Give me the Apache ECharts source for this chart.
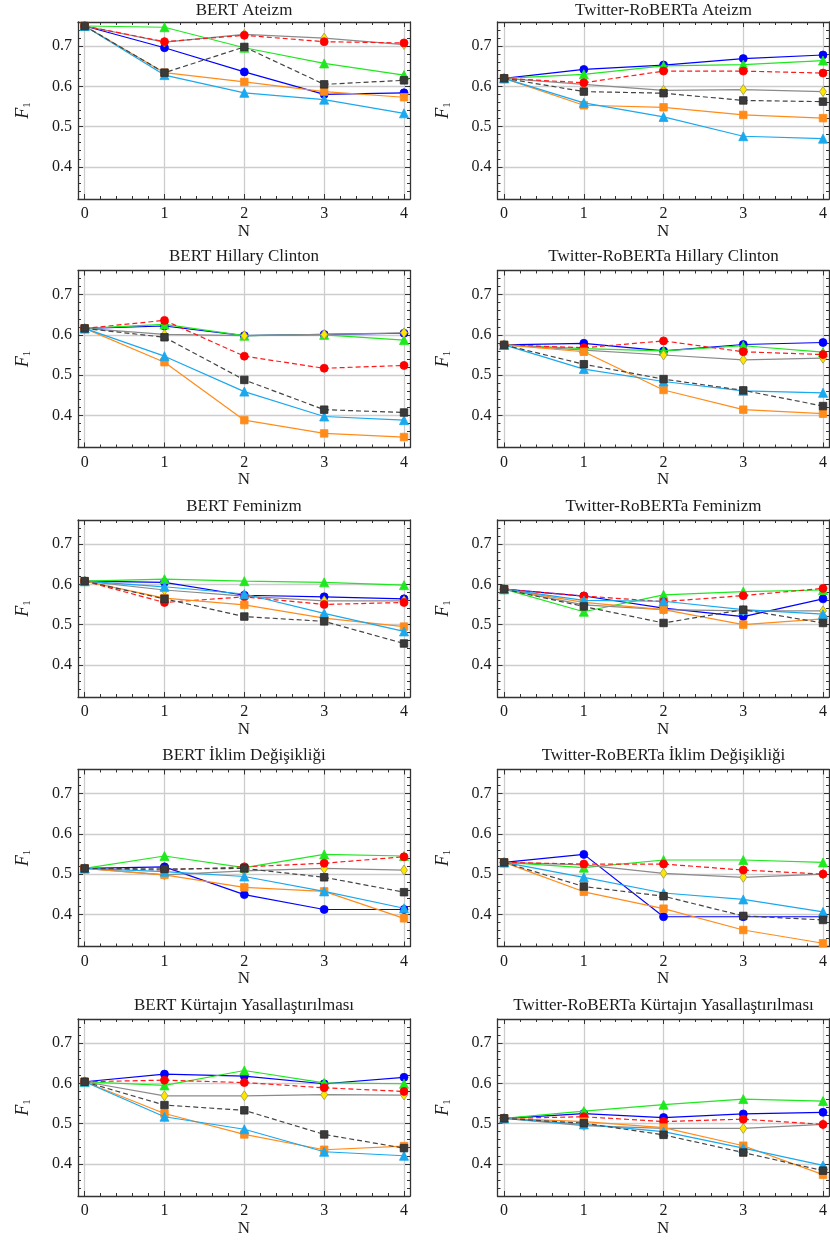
<!DOCTYPE html>
<html><head><meta charset="utf-8">
<script src="https://cdn.jsdelivr.net/npm/echarts@6/dist/echarts.min.js"></script>
<style>html,body{margin:0;padding:0;background:#fff}#c{width:830px;height:1245px}</style>
</head><body><div id="c"></div>
<script>
// ---------- data ----------
const N = [0, 1, 2, 3, 4];
const xTickLabels = ['0', '1', '2', '3', '4'];
const yTickValues = [0.4, 0.5, 0.6, 0.7];
const yTickLabels = ['0.4', '0.5', '0.6', '0.7'];
const titles = [
  'BERT Ateizm', 'Twitter-RoBERTa Ateizm',
  'BERT Hillary Clinton', 'Twitter-RoBERTa Hillary Clinton',
  'BERT Feminizm', 'Twitter-RoBERTa Feminizm',
  'BERT İklim Değişikliği', 'Twitter-RoBERTa İklim Değişikliği',
  'BERT Kürtajın Yasallaştırılması', 'Twitter-RoBERTa Kürtajın Yasallaştırılması'
];
// row order in each panel: blue, green, gray/diamond, red dashed, orange, light blue, black dashed
const bertAteizm = [
  [0.75, 0.696, 0.636, 0.580, 0.584],
  [0.75, 0.747, 0.696, 0.657, 0.628],
  [0.75, 0.710, 0.729, 0.720, 0.704],
  [0.75, 0.711, 0.727, 0.711, 0.708],
  [0.75, 0.634, 0.611, 0.587, 0.573],
  [0.75, 0.628, 0.584, 0.567, 0.533],
  [0.75, 0.634, 0.698, 0.605, 0.615]
];
const robertaAteizm = [
  [0.62, 0.642, 0.653, 0.669, 0.678],
  [0.62, 0.630, 0.651, 0.654, 0.664],
  [0.62, 0.605, 0.590, 0.592, 0.587],
  [0.62, 0.609, 0.638, 0.638, 0.633],
  [0.62, 0.553, 0.548, 0.529, 0.521],
  [0.62, 0.559, 0.524, 0.476, 0.470],
  [0.62, 0.587, 0.583, 0.565, 0.562]
];
const bertHillary = [
  [0.616, 0.622, 0.598, 0.601, 0.604],
  [0.616, 0.626, 0.598, 0.600, 0.587],
  [0.616, 0.601, 0.598, 0.601, 0.605],
  [0.616, 0.636, 0.547, 0.517, 0.524],
  [0.616, 0.532, 0.388, 0.355, 0.346],
  [0.616, 0.547, 0.459, 0.397, 0.388],
  [0.616, 0.594, 0.488, 0.414, 0.407]
];
const robertaHillary = [
  [0.575, 0.579, 0.560, 0.576, 0.581],
  [0.575, 0.566, 0.560, 0.573, 0.557],
  [0.575, 0.562, 0.550, 0.538, 0.542],
  [0.575, 0.568, 0.585, 0.558, 0.551],
  [0.575, 0.558, 0.463, 0.414, 0.404],
  [0.575, 0.515, 0.484, 0.461, 0.456],
  [0.575, 0.527, 0.490, 0.462, 0.423]
];
const bertFeminizm = [
  [0.608, 0.605, 0.573, 0.569, 0.564],
  [0.608, 0.613, 0.608, 0.605, 0.598],
  [0.608, 0.586, 0.571, 0.559, 0.559],
  [0.608, 0.555, 0.569, 0.550, 0.555],
  [0.608, 0.566, 0.549, 0.516, 0.495],
  [0.608, 0.594, 0.576, 0.528, 0.483],
  [0.608, 0.564, 0.520, 0.508, 0.453]
];
const robertaFeminizm = [
  [0.588, 0.571, 0.541, 0.520, 0.564],
  [0.588, 0.532, 0.574, 0.582, 0.586],
  [0.588, 0.549, 0.537, 0.534, 0.534],
  [0.588, 0.571, 0.557, 0.572, 0.590],
  [0.588, 0.555, 0.537, 0.500, 0.514],
  [0.588, 0.560, 0.558, 0.537, 0.526],
  [0.588, 0.545, 0.504, 0.537, 0.504]
];
const bertIklim = [
  [0.514, 0.518, 0.449, 0.412, 0.412],
  [0.514, 0.545, 0.516, 0.549, 0.545],
  [0.514, 0.498, 0.508, 0.514, 0.510],
  [0.514, 0.510, 0.518, 0.527, 0.543],
  [0.514, 0.498, 0.467, 0.457, 0.390],
  [0.514, 0.506, 0.494, 0.457, 0.415],
  [0.514, 0.513, 0.514, 0.492, 0.455]
];
const robertaIklim = [
  [0.529, 0.549, 0.394, 0.394, 0.394],
  [0.529, 0.516, 0.535, 0.535, 0.529],
  [0.529, 0.523, 0.502, 0.492, 0.500],
  [0.529, 0.525, 0.525, 0.510, 0.500],
  [0.529, 0.456, 0.414, 0.361, 0.328],
  [0.529, 0.492, 0.453, 0.437, 0.406],
  [0.529, 0.469, 0.445, 0.396, 0.386]
];
const bertKurtaj = [
  [0.604, 0.623, 0.618, 0.599, 0.615],
  [0.604, 0.595, 0.632, 0.601, 0.599],
  [0.604, 0.569, 0.569, 0.572, 0.571],
  [0.604, 0.608, 0.602, 0.589, 0.580],
  [0.604, 0.525, 0.473, 0.435, 0.444],
  [0.604, 0.517, 0.486, 0.430, 0.420],
  [0.604, 0.546, 0.533, 0.473, 0.439]
];
const robertaKurtaj = [
  [0.513, 0.525, 0.515, 0.524, 0.528],
  [0.513, 0.531, 0.547, 0.561, 0.556],
  [0.513, 0.495, 0.488, 0.488, 0.498],
  [0.513, 0.517, 0.505, 0.511, 0.498],
  [0.513, 0.505, 0.490, 0.445, 0.373],
  [0.513, 0.498, 0.480, 0.439, 0.396],
  [0.513, 0.501, 0.472, 0.428, 0.383]
];
const panels = [bertAteizm, robertaAteizm, bertHillary, robertaHillary, bertFeminizm,
  robertaFeminizm, bertIklim, robertaIklim, bertKurtaj, robertaKurtaj];

// ---------- styles ----------
const seriesStyles = [
  {line: '#0000ff', fill: '#0000ff', border: '#0000ff', symbol: 'circle', size: 8, dash: 'solid'},
  {line: '#1ee81e', fill: '#1ee81e', border: '#1ee81e', symbol: 'triangle', size: 9, dash: 'solid'},
  {line: '#8a8a8a', fill: '#ffe600', border: '#9a9a50', symbol: 'diamond', size: [7, 10], dash: 'solid'},
  {line: '#ff1a1a', fill: '#ff0000', border: '#ff0000', symbol: 'circle', size: 8, dash: [5, 3]},
  {line: '#ff8c1a', fill: '#ff8c1a', border: '#ff8c1a', symbol: 'rect', size: 7.5, dash: 'solid'},
  {line: '#1aa8ee', fill: '#1aa8ee', border: '#1aa8ee', symbol: 'triangle', size: 9, dash: 'solid'},
  {line: '#444444', fill: '#3a3a3a', border: '#2a2a2a', symbol: 'rect', size: 7.5, dash: [5, 3]}
];

const FONT = "'Liberation Serif', 'DejaVu Serif', serif";
const XMIN = -0.083, XMAX = 4.075, YMIN = 0.32, YMAX = 0.76;
const colLeft = [78, 497.5];
const rowTop = [22, 270.5, 520, 769.5, 1019];
const GW = 332, GH = 177;
const xMinor = [];
for (let k = 0; k < 4; k++) for (let j = 1; j < 5; j++) xMinor.push(+(k + j * 0.2).toFixed(2));
const yMinor = [];
for (let v = 32; v <= 76; v += 2) if (v % 10 !== 0) yMinor.push(v / 100);

const grid = [], xAxis = [], yAxis = [], series = [], title = [];
const axisColor = '#333';
panels.forEach((rows, i) => {
  const col = i % 2, row = Math.floor(i / 2);
  const left = colLeft[col], top = rowTop[row];
  grid.push({left: left, top: top, width: GW, height: GH, containLabel: false});
  title.push({
    text: titles[i], left: left + GW / 2, top: Math.max(top - 22, 2), textAlign: 'center', padding: 0,
    textStyle: {fontFamily: FONT, fontSize: 17, fontWeight: 'normal', color: '#1a1a1a'}
  });
  const base = {gridIndex: i, type: 'value', min: XMIN, max: XMAX, splitLine: {show: false},
    axisLabel: {show: false}, axisLine: {show: false, onZero: false}};
  // main bottom
  xAxis.push(Object.assign({}, base, {
    position: 'bottom',
    axisLine: {show: true, onZero: false, lineStyle: {color: axisColor, width: 1.3}},
    axisTick: {show: true, inside: true, length: 5, customValues: N, lineStyle: {color: axisColor}},
    axisLabel: {show: true, customValues: N, margin: 7, fontFamily: FONT, fontSize: 16, color: '#1a1a1a',
      formatter: v => xTickLabels[N.indexOf(Math.round(v))]},
    splitLine: {show: true, lineStyle: {color: '#cdcdcd', width: 1.3}},
    name: 'N', nameLocation: 'middle', nameGap: 23,
    nameTextStyle: {fontFamily: FONT, fontSize: 17, color: '#1a1a1a'}
  }));
  xAxis.push(Object.assign({}, base, {position: 'bottom',
    axisTick: {show: true, inside: true, length: 3, customValues: xMinor, lineStyle: {color: axisColor}}}));
  xAxis.push(Object.assign({}, base, {position: 'top',
    axisLine: {show: true, onZero: false, lineStyle: {color: axisColor, width: 1.3}},
    axisTick: {show: true, inside: true, length: 5, customValues: N, lineStyle: {color: axisColor}}}));
  xAxis.push(Object.assign({}, base, {position: 'top',
    axisTick: {show: true, inside: true, length: 3, customValues: xMinor, lineStyle: {color: axisColor}}}));

  const ybase = {gridIndex: i, type: 'value', min: YMIN, max: YMAX, splitLine: {show: false},
    axisLabel: {show: false}, axisLine: {show: false, onZero: false}};
  yAxis.push(Object.assign({}, ybase, {
    position: 'left',
    axisLine: {show: true, onZero: false, lineStyle: {color: axisColor, width: 1.3}},
    axisTick: {show: true, inside: true, length: 5, customValues: yTickValues, lineStyle: {color: axisColor}},
    axisLabel: {show: true, customValues: yTickValues, margin: 6, fontFamily: FONT, fontSize: 16, color: '#1a1a1a',
      formatter: v => yTickLabels[yTickValues.findIndex(t => Math.abs(t - v) < 1e-6)]},
    splitLine: {show: true, lineStyle: {color: '#cdcdcd', width: 1.3}},
    name: '{f|F}{s|1}', nameLocation: 'middle', nameGap: 45,
    nameTextStyle: {rich: {
      f: {fontFamily: FONT, fontSize: 18, fontStyle: 'italic', color: '#1a1a1a'},
      s: {fontFamily: FONT, fontSize: 11, color: '#1a1a1a', verticalAlign: 'bottom', padding: [8, 0, 0, 0]}
    }}
  }));
  yAxis.push(Object.assign({}, ybase, {position: 'left',
    axisTick: {show: true, inside: true, length: 3, customValues: yMinor, lineStyle: {color: axisColor}}}));
  yAxis.push(Object.assign({}, ybase, {position: 'right',
    axisLine: {show: true, onZero: false, lineStyle: {color: axisColor, width: 1.3}},
    axisTick: {show: true, inside: true, length: 5, customValues: yTickValues, lineStyle: {color: axisColor}}}));
  yAxis.push(Object.assign({}, ybase, {position: 'right',
    axisTick: {show: true, inside: true, length: 3, customValues: yMinor, lineStyle: {color: axisColor}}}));

  rows.forEach((vals, s) => {
    const st = seriesStyles[s];
    series.push({
      type: 'line', xAxisIndex: i * 4, yAxisIndex: i * 4,
      data: N.map((n, k) => [n, vals[k]]),
      symbol: st.symbol, symbolSize: st.size, showSymbol: true, clip: false,
      lineStyle: {color: st.line, width: 1.2, type: st.dash},
      itemStyle: {color: st.fill, borderColor: st.border, borderWidth: 0.8},
      z: 3 + s, animation: false, silent: true
    });
  });
});

const chart = echarts.init(document.getElementById('c'), null, {renderer: 'canvas'});
chart.setOption({backgroundColor: '#fff', animation: false, title, grid, xAxis, yAxis, series});
</script></body></html>
